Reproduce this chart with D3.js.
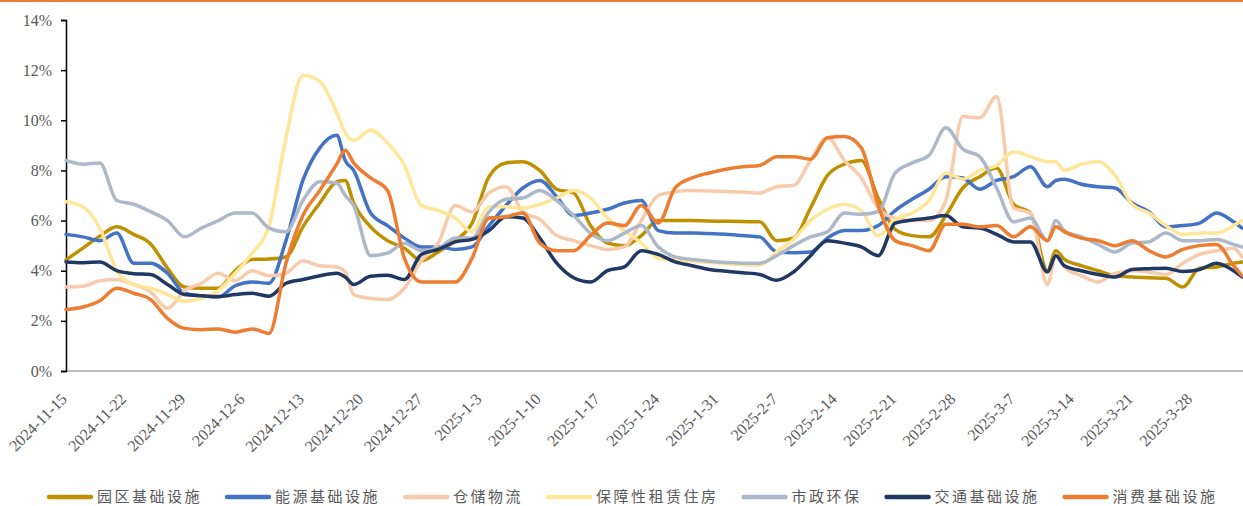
<!DOCTYPE html>
<html>
<head>
<meta charset="utf-8">
<script src="https://cdn.jsdelivr.net/npm/d3@7"></script>
<style>
  body { margin: 0; background: #fff; }
</style>
</head>
<body>
<svg id="chart" width="1243" height="506"></svg>
<script>
// dates sampled every 2nd day (plus 12-18, 3-12 and 4-3)
var dates = ["2024-11-15","2024-11-17","2024-11-19","2024-11-21","2024-11-23","2024-11-25","2024-11-27","2024-11-29",
  "2024-12-01","2024-12-03","2024-12-05","2024-12-07","2024-12-09","2024-12-11","2024-12-13","2024-12-15","2024-12-17",
  "2024-12-18","2024-12-19","2024-12-21","2024-12-23","2024-12-25","2024-12-27","2024-12-29","2024-12-31","2025-01-02",
  "2025-01-04","2025-01-06","2025-01-08","2025-01-10","2025-01-12","2025-01-14","2025-01-16","2025-01-18","2025-01-20",
  "2025-01-22","2025-01-24","2025-01-26","2025-01-28","2025-01-30","2025-02-01","2025-02-03","2025-02-05","2025-02-07",
  "2025-02-09","2025-02-11","2025-02-13","2025-02-15","2025-02-17","2025-02-19","2025-02-21","2025-02-23","2025-02-25",
  "2025-02-27","2025-03-01","2025-03-03","2025-03-05","2025-03-07","2025-03-09","2025-03-11","2025-03-12","2025-03-13",
  "2025-03-15","2025-03-17","2025-03-19","2025-03-21","2025-03-23","2025-03-25","2025-03-27","2025-03-29","2025-03-31",
  "2025-04-02","2025-04-03"];

var yuanqu = [4.43,4.9,5.38,5.75,5.45,5.07,4.1,3.35,3.3,3.3,4.0,4.45,4.47,4.55,5.75,6.7,7.55,7.6,6.7,5.75,5.2,4.9,4.4,
  4.75,5.2,5.9,7.75,8.3,8.35,8.0,7.25,7.1,5.8,5.1,5.0,5.4,6.0,6.0,6.0,5.98,5.97,5.96,5.95,5.2,5.3,6.5,7.8,8.25,8.4,6.9,
  5.65,5.4,5.35,6.2,7.3,7.75,8.1,6.65,6.3,4.0,4.8,4.45,4.2,4.0,3.8,3.75,3.72,3.7,3.35,4.1,4.15,4.3,4.35];
var nengyuan = [5.45,5.35,5.2,5.5,4.3,4.3,3.9,3.1,3.0,2.95,3.4,3.55,3.5,5.2,7.6,8.9,9.4,8.4,8.0,6.3,5.8,5.3,4.95,4.95,
  4.85,4.95,5.8,6.6,7.3,7.6,6.95,6.2,6.3,6.45,6.7,6.8,5.6,5.5,5.5,5.48,5.45,5.4,5.35,4.75,4.72,4.75,5.3,5.6,5.6,5.8,6.4,
  6.85,7.25,7.75,7.7,7.25,7.6,7.75,8.15,7.35,7.6,7.65,7.45,7.35,7.3,6.7,6.35,5.75,5.8,5.9,6.3,5.95,5.7];
var cangchu = [3.35,3.38,3.6,3.65,3.45,3.15,2.5,3.2,3.5,3.9,3.6,4.0,3.8,3.9,4.4,4.2,4.15,3.95,3.05,2.9,2.85,3.3,4.4,5.1,
  6.6,6.35,7.1,7.35,6.35,6.05,5.4,5.2,5.0,4.85,4.95,6.0,7.0,7.15,7.2,7.18,7.16,7.14,7.1,7.35,7.4,8.4,9.3,8.4,7.7,6.5,6.1,
  6.0,6.0,6.8,10.15,10.1,10.95,6.5,6.3,3.45,4.6,4.15,3.8,3.55,3.9,4.0,3.95,3.85,4.3,4.65,4.8,4.9,4.55];
var baozhang = [6.75,6.55,5.7,4.0,3.45,3.3,3.05,2.78,2.9,3.2,3.9,4.7,5.8,9.3,11.8,11.55,10.3,9.5,9.2,9.6,9.1,8.2,6.6,6.4,
  6.1,5.55,6.55,6.55,6.5,6.65,6.9,7.2,6.9,6.1,5.6,5.1,4.5,4.43,4.38,4.33,4.28,4.25,4.22,4.75,5.25,6.0,6.45,6.65,6.4,5.4,
  6.05,6.3,6.8,7.9,7.65,8.0,8.2,8.75,8.55,8.35,8.35,8.0,8.25,8.35,7.8,6.65,6.3,5.8,5.45,5.5,5.5,5.8,6.0];
var shizheng = [8.4,8.25,8.3,6.8,6.65,6.35,6.0,5.35,5.7,6.0,6.3,6.3,5.7,5.55,6.8,7.55,7.5,7.0,6.6,4.6,4.7,5.1,4.8,4.9,5.3,
  5.3,6.35,6.85,6.9,7.2,6.8,6.2,5.5,5.2,5.5,5.8,4.95,4.55,4.45,4.38,4.33,4.3,4.3,4.6,5.0,5.35,5.55,6.3,6.25,6.35,7.9,8.3,
  8.6,9.7,8.85,8.55,7.3,5.95,6.1,5.2,6.0,5.6,5.35,5.05,4.75,5.1,5.15,5.5,5.2,5.2,5.25,5.05,4.95];
var jiaotong = [4.35,4.32,4.35,4.0,3.88,3.85,3.45,3.05,3.0,2.97,3.05,3.1,2.98,3.5,3.65,3.8,3.9,3.75,3.45,3.78,3.82,3.65,
  4.65,4.85,5.15,5.25,5.6,6.15,6.1,5.3,4.3,3.72,3.55,4.0,4.15,4.8,4.65,4.35,4.2,4.05,3.98,3.92,3.85,3.62,3.95,4.6,5.2,5.1,
  4.95,4.6,5.9,6.02,6.1,6.2,5.75,5.7,5.45,5.15,5.15,3.95,4.6,4.2,4.0,3.85,3.75,4.05,4.08,4.1,3.97,4.05,4.3,4.0,3.75];
var xiaofei = [2.45,2.55,2.8,3.3,3.1,2.85,2.1,1.7,1.65,1.68,1.55,1.68,1.5,4.3,6.2,7.2,8.25,8.8,8.3,7.7,7.2,4.5,3.55,3.55,
  3.55,4.5,6.1,6.15,6.3,5.1,4.8,4.8,5.4,5.9,5.8,6.6,5.9,7.3,7.7,7.9,8.05,8.15,8.2,8.55,8.55,8.45,9.3,9.35,8.9,6.6,5.2,5.0,
  4.8,5.85,5.85,5.75,5.8,5.35,5.75,5.2,5.75,5.55,5.3,5.2,5.0,5.2,4.8,4.55,4.85,5.0,5.05,4.2,3.8];

var names = ["园区基础设施","能源基础设施","仓储物流","保障性租赁住房","市政环保","交通基础设施","消费基础设施"];
var colors = ["#BF9000","#4472C4","#F8CBAD","#FFE699","#ADB9CA","#203864","#ED7D31"];
var yTicks = [0,2,4,6,8,10,12,14];
var xTicks = ["2024-11-15","2024-11-22","2024-11-29","2024-12-6","2024-12-13","2024-12-20","2024-12-27","2025-1-3",
  "2025-1-10","2025-1-17","2025-1-24","2025-1-31","2025-2-7","2025-2-14","2025-2-21","2025-2-28","2025-3-7",
  "2025-3-14","2025-3-21","2025-3-28"];

var svg = d3.select("#chart");
var parse = d3.timeParse("%Y-%m-%d");
var serif = "'Liberation Serif','Times New Roman',serif";
var cjk = "'Noto Sans CJK SC','Noto Sans',sans-serif";

var x = d3.scaleTime()
    .domain([parse("2024-11-15"), parse("2025-04-03")])
    .range([66, 1242]);
var y = d3.scaleLinear().domain([0, 14]).range([371, 20]);

// orange rule along the top edge
svg.append("rect").attr("x", 0).attr("y", 0).attr("width", 1243).attr("height", 2).attr("fill", "#ED7D31");

// x axis: grey baseline, rotated labels
svg.append("line")
    .attr("x1", 66).attr("x2", 1243).attr("y1", 371).attr("y2", 371)
    .attr("stroke", "#BFBFBF").attr("stroke-width", 2);

svg.append("g").selectAll("text")
    .data(xTicks)
  .enter().append("text")
    .attr("transform", function(d) { return "translate(" + (x(parse(d)) + 2) + ",400) rotate(-45)"; })
    .attr("text-anchor", "end")
    .attr("font-family", serif)
    .attr("font-size", "16px")
    .attr("fill", "#595959")
    .text(function(d) { return d; });

// y axis
var yAxis = svg.append("g")
    .attr("transform", "translate(66,0)")
    .call(d3.axisLeft(y).tickValues(yTicks).tickSize(5).tickPadding(9)
      .tickFormat(function(d) { return d + "%"; }));
yAxis.select(".domain").attr("stroke", "#000").attr("stroke-width", 1.5);
yAxis.selectAll(".tick line").attr("stroke", "#000").attr("stroke-width", 1.5);
yAxis.selectAll(".tick text")
    .attr("font-family", serif)
    .attr("font-size", "16px")
    .attr("fill", "#595959");

// series
var series = [yuanqu, nengyuan, cangchu, baozhang, shizheng, jiaotong, xiaofei];
var line = d3.line()
    .x(function(d, i) { return x(parse(dates[i])); })
    .y(function(d) { return y(d); })
    .curve(d3.curveMonotoneX);

svg.append("g").selectAll("path")
    .data(series)
  .enter().append("path")
    .attr("d", line)
    .attr("fill", "none")
    .attr("stroke", function(d, i) { return colors[i]; })
    .attr("stroke-width", 3.5)
    .attr("stroke-linejoin", "round")
    .attr("stroke-linecap", "round");

// legend, laid out left to right
var legend = svg.append("g");
var lx = 49;
names.forEach(function(name, i) {
  var item = legend.append("g").attr("transform", "translate(" + lx + ",497)");
  item.append("line")
      .attr("x1", 0).attr("x2", 42).attr("y1", 0).attr("y2", 0)
      .attr("stroke", colors[i]).attr("stroke-width", 4.5).attr("stroke-linecap", "round");
  var t = item.append("text")
      .attr("x", 48).attr("y", 4.5)
      .attr("font-family", cjk)
      .attr("font-size", "15px")
      .attr("letter-spacing", "2.5px")
      .attr("fill", "#595959")
      .text(name);
  lx += 48 + t.node().getComputedTextLength() + 25;
});
</script>
</body>
</html>
